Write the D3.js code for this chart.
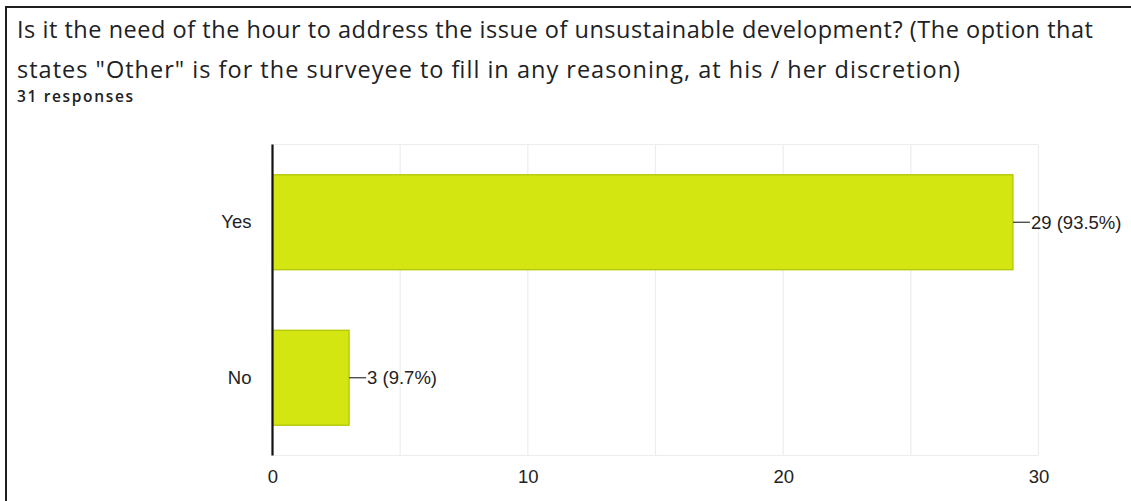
<!DOCTYPE html>
<html>
<head>
<meta charset="utf-8">
<script src="https://cdn.jsdelivr.net/npm/d3@7"></script>
<style>
  html, body { margin: 0; padding: 0; background: #fff; }
  svg { display: block; }
</style>
</head>
<body>
<svg id="chart" width="1131" height="501"></svg>
<script>
// Survey question, answer categories and response counts
const titleLines = [
  "Is it the need of the hour to address the issue of unsustainable development? (The option that",
  "states \"Other\" is for the surveyee to fill in any reasoning, at his / her discretion)"
];
const subtitle = "31 responses";
const categories = ["Yes", "No"];
const counts = [29, 3];
const percentLabels = ["93.5%", "9.7%"];
const xTicks = [0, 10, 20, 30];
const xGrid = [0, 5, 10, 15, 20, 25, 30];

const svg = d3.select("#chart");
const W = 1131, H = 501;
const plot = { left: 272.5, right: 1038.5, top: 144.5, bottom: 455.5 };

// Card frame (runs off the right and bottom edges)
svg.append("rect")
  .attr("x", 6).attr("y", 7)
  .attr("width", W + 20).attr("height", H + 20)
  .attr("fill", "none").attr("stroke", "#1f1f1f").attr("stroke-width", 2);

// Question text, each line spread to its set width
const titleFont = "'Open Sans', Roboto, sans-serif";
const titleWidths = [1076, 943];
svg.append("g").selectAll("text.title")
  .data(titleLines)
  .join("text")
  .attr("class", "title")
  .attr("x", 17)
  .attr("y", (d, i) => 38 + i * 40)
  .attr("font-family", titleFont)
  .attr("font-size", 23.5)
  .attr("fill", "#202124")
  .attr("textLength", (d, i) => titleWidths[i])
  .attr("lengthAdjust", "spacing")
  .text(d => d);

svg.append("text")
  .attr("x", 17).attr("y", 102)
  .attr("font-family", titleFont)
  .attr("font-size", 15.5)
  .attr("font-weight", 600)
  .attr("fill", "#202124")
  .attr("textLength", 116)
  .attr("lengthAdjust", "spacing")
  .text(subtitle);

// Scales
const x = d3.scaleLinear().domain([0, 30]).range([plot.left, plot.right]);
const y = d3.scaleBand().domain(categories)
  .range([plot.top, plot.bottom])
  .paddingInner(0.389).paddingOuter(0.1945);

const labelFont = "'Liberation Sans', Arial, sans-serif";

// Gridlines
svg.append("g").selectAll("line")
  .data(xGrid)
  .join("line")
  .attr("x1", d => x(d)).attr("x2", d => x(d))
  .attr("y1", plot.top).attr("y2", plot.bottom)
  .attr("stroke", "#ededed").attr("stroke-width", 1.2);
svg.append("g").selectAll("line")
  .data([plot.top, plot.bottom])
  .join("line")
  .attr("x1", plot.left).attr("x2", plot.right)
  .attr("y1", d => d).attr("y2", d => d)
  .attr("stroke", "#ededed").attr("stroke-width", 1.2);

// Bars
const rows = categories.map((c, i) => ({ cat: c, n: counts[i], pct: percentLabels[i] }));
svg.append("g").selectAll("rect")
  .data(rows)
  .join("rect")
  .attr("x", x(0))
  .attr("y", d => y(d.cat))
  .attr("width", d => x(d.n) - x(0))
  .attr("height", y.bandwidth())
  .attr("fill", "#d3e612")
  .attr("stroke", "#aec300")
  .attr("stroke-width", 1.2);

// Value annotations with leader lines
const ann = svg.append("g").selectAll("g")
  .data(rows)
  .join("g")
  .attr("transform", d => `translate(${x(d.n)},${y(d.cat) + y.bandwidth() / 2})`);
ann.append("line")
  .attr("x1", 0).attr("x2", 17)
  .attr("stroke", "#333").attr("stroke-width", 1.2);
ann.append("text")
  .attr("x", 18)
  .attr("dy", "0.35em")
  .attr("font-family", labelFont)
  .attr("font-size", 18.5)
  .attr("fill", "#222")
  .text(d => `${d.n} (${d.pct})`);

// Category axis
const yAxis = svg.append("g")
  .attr("transform", `translate(${plot.left},0)`)
  .call(d3.axisLeft(y).tickSize(0).tickPadding(21));
yAxis.select(".domain").remove();
yAxis.selectAll("text")
  .attr("font-family", labelFont)
  .attr("font-size", 18.5)
  .attr("fill", "#222");
svg.append("line")
  .attr("x1", plot.left).attr("x2", plot.left)
  .attr("y1", plot.top).attr("y2", plot.bottom)
  .attr("stroke", "#111").attr("stroke-width", 2.2);

// Value axis
const xAxis = svg.append("g")
  .attr("transform", `translate(0,${plot.bottom})`)
  .call(d3.axisBottom(x).tickValues(xTicks).tickSize(0).tickPadding(14));
xAxis.select(".domain").remove();
xAxis.selectAll("text")
  .attr("font-family", labelFont)
  .attr("font-size", 18.5)
  .attr("fill", "#222");
</script>
</body>
</html>
